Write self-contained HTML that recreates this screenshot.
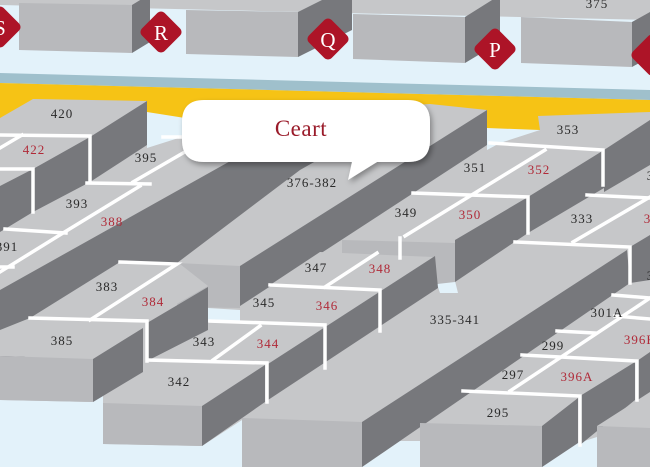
<!DOCTYPE html>
<html><head><meta charset="utf-8"><style>
html,body{margin:0;padding:0;background:#e3f2fa;}
svg{display:block;}
.t{fill:#c6c7c9}.f{fill:#b8b9bc}.d{fill:#77787c}.b{fill:#e3f2fa}
.w{stroke:#fff;stroke-width:3.5;fill:none;stroke-linecap:square}
text{font-family:"Liberation Serif",serif;font-size:13px;letter-spacing:1px;text-anchor:middle;fill:#2a2a2a}
text.r{fill:#b02a38}
.dl{fill:#fff;font-size:21px;letter-spacing:0}
</style></head><body>
<svg width="650" height="467" viewBox="0 0 650 467" xmlns="http://www.w3.org/2000/svg">
<defs><filter id="sh" x="-10%" y="-10%" width="120%" height="140%"><feDropShadow dx="2" dy="3" stdDeviation="3" flood-color="#000" flood-opacity="0.35"/></filter></defs>
<rect width="650" height="467" fill="#e3f2fa"/>
<polygon points="0,73 650,90 650,100 0,83" fill="#9fc0cc"/>
<polygon points="0,83 650,100 650,135 0,121" fill="#f6c315"/>
<polygon class="t" points="0,0 650,0 650,20 0,5"/>
<polygon class="f" points="19,3 132,5 132,53 19,50"/>
<polygon class="d" points="132,5 150,-6 150,42 132,53"/>
<polygon class="f" points="186,10 298,12 298,57 186,54"/>
<polygon class="d" points="298,12 352,-15 352,30 298,57"/>
<polygon class="f" points="353,14 465,17 465,63 353,59"/>
<polygon class="d" points="465,17 500,-5 500,42 465,63"/>
<polygon class="f" points="521,17 632,22 632,67 521,63"/>
<polygon class="d" points="632,22 650,12 650,57 632,67"/>
<text x="597" y="8">375</text>
<g fill="#ad1427">
<rect x="-16" y="11" width="32" height="32" rx="5" transform="rotate(45 0 27)"/>
<rect x="145" y="16" width="32" height="32" rx="5" transform="rotate(45 161 32)"/>
<rect x="312" y="23" width="32" height="32" rx="5" transform="rotate(45 328 39)"/>
<rect x="479" y="33" width="32" height="32" rx="5" transform="rotate(45 495 49)"/>
<rect x="636" y="39" width="32" height="32" rx="5" transform="rotate(45 652 55)"/>
</g>
<text class="dl" x="0" y="35">S</text>
<text class="dl" x="161" y="40">R</text>
<text class="dl" x="328" y="47">Q</text>
<text class="dl" x="495" y="57">P</text>
<polygon class="t" points="0,118 33,99 147,101 147,120 430,104 487,110 487,130 540,130 538,116 650,112 650,467 0,467"/>
<polygon class="b" points="147,112 185,118 185,136 147,148"/>
<polygon class="b" points="487,128 540,130 500,143 487,150"/>
<polygon class="b" points="0,400 93,402 103,396 103,467 0,467"/>
<polygon class="b" points="103,444 202,446 242,420 242,467 103,467"/>
<polygon class="b" points="362,467 400,441 420,441 420,467"/>
<polygon class="b" points="542,467 578,443 597,437 597,467"/>
<polygon class="b" points="208,308 240,310 240,321 208,322"/>
<polygon class="b" points="437,284 455,281 458,293 440,293"/>
<polygon class="d" points="90,137 147,101 147,145 90,182"/>
<polygon class="d" points="33,169 90,137 90,182 33,212"/>
<polygon class="d" points="0,186 33,169 33,212 0,232"/>
<polygon class="d" points="0,290 300,122 420,102 300,170 177,263 0,372"/>
<polygon class="d" points="240,266 487,110 487,145 240,306"/>
<polygon class="f" points="177,263 240,266 240,308 177,307"/>
<polygon class="t" points="30,318 147,321 208,286 180,264 120,262"/>
<polygon class="t" points="0,330 30,318 147,321 93,359 0,356"/>
<polygon class="d" points="147,323 208,287 208,330 147,361"/>
<polygon class="d" points="93,359 143,328 143,372 93,402"/>
<polygon class="f" points="0,356 93,359 93,402 0,400"/>
<polygon class="f" points="342,240 455,243 455,282 437,284 433,258 342,256"/>
<polygon class="d" points="455,240 528,197 528,233 455,282"/>
<polygon class="d" points="528,197 604,150 604,188 528,233"/>
<polygon class="d" points="604,150 650,120 650,165 604,192"/>
<polygon class="d" points="630,247 650,235 650,280 630,283"/>
<polygon class="t" points="270,285 378,290 435,256 433,257 320,252"/>
<polygon class="d" points="268,364 435,256 438,288 268,400"/>
<polygon class="d" points="202,406 265,365 265,402 202,446"/>
<polygon class="f" points="103,403 202,406 202,446 103,444"/>
<polygon class="d" points="362,422 627,250 630,283 362,467"/>
<polygon class="f" points="242,418 362,422 362,467 242,467"/>
<polygon class="d" points="580,396 635,362 635,400 580,445"/>
<polygon class="d" points="637,361 650,352 650,395 637,400"/>
<polygon class="d" points="542,426 578,398 578,443 542,467"/>
<polygon class="f" points="420,423 542,426 542,467 420,467"/>
<polygon class="t" points="597,426 650,392 650,428"/>
<polygon class="f" points="597,426 650,428 650,467 597,467"/>
<g class="w">
<polyline points="0,135 90,136 90,182"/>
<polyline points="22,135 0,148"/>
<polyline points="0,169 33,169 33,212"/>
<polyline points="87,183 150,184"/>
<polyline points="140,186 63,233 0,272"/>
<polyline points="5,229 66,233"/>
<polyline points="0,267 13,267"/>
<polyline points="163,137 182,137"/>
<polyline points="183,153 133,182"/>
<polyline points="120,262 177,264 90,320"/>
<polyline points="30,318 147,321 147,361"/>
<polyline points="148,360 267,363 267,402"/>
<polyline points="260,326 213,360"/>
<polyline points="210,321 325,325 325,368"/>
<polyline points="270,285 380,290 380,331"/>
<polyline points="377,253 325,287"/>
<polyline points="400,238 400,258"/>
<polyline points="413,193 528,197 528,233"/>
<polyline points="545,150 405,236"/>
<polyline points="490,143 603,150 603,185"/>
<polyline points="587,195 650,198"/>
<polyline points="515,242 630,247 630,283"/>
<polyline points="650,197 573,242"/>
<polyline points="613,295 650,298"/>
<polyline points="615,316 650,319"/>
<polyline points="557,331 595,333"/>
<polyline points="522,355 637,361 637,400"/>
<polyline points="463,391 580,396 580,445"/>
<polyline points="650,298 510,391"/>
</g>
<text x="62" y="118">420</text>
<text class="r" x="34" y="154">422</text>
<text x="146" y="162">395</text>
<text x="77" y="208">393</text>
<text class="r" x="112" y="226">388</text>
<text x="7" y="251">391</text>
<text x="312" y="187">376-382</text>
<text x="475" y="172">351</text>
<text class="r" x="539" y="174">352</text>
<text x="568" y="134">353</text>
<text x="406" y="217">349</text>
<text class="r" x="470" y="219">350</text>
<text x="582" y="223">333</text>
<text class="r" x="655" y="223">333</text>
<text x="658" y="180">333</text>
<text x="658" y="280">333</text>
<text x="107" y="291">383</text>
<text class="r" x="153" y="306">384</text>
<text x="62" y="345">385</text>
<text x="316" y="272">347</text>
<text class="r" x="380" y="273">348</text>
<text x="264" y="307">345</text>
<text class="r" x="327" y="310">346</text>
<text x="204" y="346">343</text>
<text class="r" x="268" y="348">344</text>
<text x="179" y="386">342</text>
<text x="455" y="324">335-341</text>
<text x="607" y="317">301A</text>
<text class="r" x="640" y="344">396B</text>
<text x="553" y="350">299</text>
<text x="513" y="379">297</text>
<text class="r" x="577" y="381">396A</text>
<text x="498" y="417">295</text>
<g filter="url(#sh)">
<path d="M204,100 H408 Q430,100 430,122 V140 Q430,162 408,162 H377 L348,180 L352,162 H204 Q182,162 182,140 V122 Q182,100 204,100 Z" fill="#fff"/>
</g>
<text x="301" y="136" style="font-size:23px;fill:#9a1b2a;letter-spacing:0.5px">Ceart</text>
</svg>
</body></html>
